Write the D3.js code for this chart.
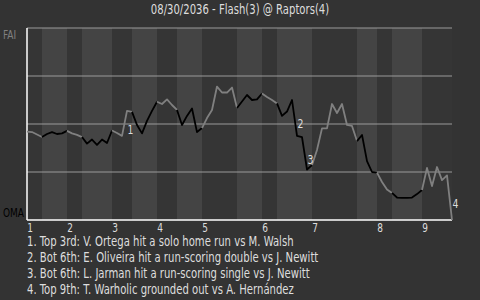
<!DOCTYPE html>
<html>
<head>
<meta charset="utf-8">
<script src="https://cdn.jsdelivr.net/npm/d3@7"></script>
<style>
  body { margin: 0; background: #333; }
  svg { display: block; }
  text { font-family: "DejaVu Sans Condensed", "DejaVu Sans", sans-serif; }
</style>
</head>
<body>
<div id="chart"></div>
<script>
const title = "08/30/2036 - Flash(3) @ Raptors(4)";
const awayTeam = "FAI";
const homeTeam = "OMA";
const innings = ["1", "2", "3", "4", "5", "6", "7", "8", "9"];

// away (FAI) win probability after each plate appearance, in percent
const winProb = [
    46.0, 45.8, 44.5, 43.2, 44.8, 45.8, 44.8, 45.1, 46.4, 45.1,
    44.3, 43.2, 39.8, 41.9, 39.1, 41.9, 40.1, 46.6, 45.3, 43.8,
    56.8, 56.3, 49.5, 45.1, 51.6, 56.8, 61.6, 60.4, 62.8, 59.9,
    57.3, 49.5, 54.2, 58.1, 45.8, 47.9, 53.1, 57.3, 69.5, 66.4,
    66.4, 69.0, 58.3, 61.7, 65.1, 62.5, 62.8, 65.9, 64.1, 62.5,
    60.7, 54.2, 56.5, 62.5, 43.8, 43.2, 26.3, 28.6, 36.5, 47.7,
    47.7, 60.4, 55.7, 60.4, 49.5, 49.0, 41.1, 44.3, 30.7, 25.0,
    24.7, 19.8, 15.9, 14.1, 11.7, 11.5, 11.5, 11.7, 13.5, 15.6,
    27.1, 17.7, 27.6, 20.8, 23.2, 0
];

// index where each half inning starts (top 1st, bot 1st, ...), last = end
const halfStarts = [0, 3, 8, 11, 17, 21, 26, 30, 35, 42, 47, 50, 57, 66, 70, 73, 79, 85];

// key plays: index of the plate appearance that ends the segment
const eventIdx = [20, 54, 56, 85];
const eventNotes = [
    "1. Top 3rd: V. Ortega hit a solo home run vs M. Walsh",
    "2. Bot 6th: E. Oliveira hit a run-scoring double vs J. Newitt",
    "3. Bot 6th: L. Jarman hit a run-scoring single vs J. Newitt",
    "4. Top 9th: T. Warholic grounded out vs A. Hernández"
];

const W = 480, H = 300;
const plotL = 27, plotR = 452, plotT = 28, plotB = 220;
const squeeze = 0.8; // reference font is narrower than DejaVu Condensed

const svg = d3.select("#chart").append("svg")
    .attr("width", W)
    .attr("height", H);

svg.append("rect").attr("width", W).attr("height", H).attr("fill", "#333");

const x = d3.scaleLinear().domain([0, winProb.length - 1]).range([plotL, plotR]);
const y = d3.scaleLinear().domain([0, 100]).range([plotB, plotT]);

function condense(sel) {
    sel.each(function () {
        const w = this.getComputedTextLength();
        d3.select(this)
            .attr("textLength", w * squeeze)
            .attr("lengthAdjust", "spacingAndGlyphs");
    });
}

// half inning bands
const halves = d3.range(halfStarts.length - 1).map(h => ({
    h, a: halfStarts[h], b: halfStarts[h + 1]
}));

svg.selectAll(".band")
    .data(halves)
    .join("rect")
    .attr("class", "band")
    .attr("x", d => x(d.a))
    .attr("y", plotT)
    .attr("width", d => x(d.b) - x(d.a))
    .attr("height", plotB - plotT)
    .attr("fill", d => d.h % 2 ? "#444" : "#353535");

// grid
svg.selectAll(".grid")
    .data([25, 50, 75, 100])
    .join("line")
    .attr("class", "grid")
    .attr("x1", plotL).attr("x2", plotR)
    .attr("y1", d => y(d)).attr("y2", d => y(d))
    .attr("stroke", "#9a9a9a")
    .attr("stroke-width", 1);

// axes
svg.append("line")
    .attr("x1", plotL).attr("x2", plotL)
    .attr("y1", plotT).attr("y2", plotB)
    .attr("stroke", "#fff").attr("stroke-width", 1.5);
svg.append("line")
    .attr("x1", plotL).attr("x2", plotR)
    .attr("y1", plotB).attr("y2", plotB)
    .attr("stroke", "#fff").attr("stroke-width", 1.5);

// win probability line, coloured by batting team
const line = d3.line().x(i => x(i)).y(i => y(winProb[i]));
svg.selectAll(".wp")
    .data(halves)
    .join("path")
    .attr("class", "wp")
    .attr("d", d => line(d3.range(d.a, d.b + 1)))
    .attr("fill", "none")
    .attr("stroke", d => d.h % 2 ? "#000" : "#808080")
    .attr("stroke-width", 1.8)
    .attr("stroke-linejoin", "round");

// event labels at segment midpoints
svg.selectAll(".evt")
    .data(eventIdx)
    .join("text")
    .attr("class", "evt")
    .attr("x", i => (x(i) + x(i - 1)) / 2 + 3)
    .attr("y", i => (y(winProb[i]) + y(winProb[i - 1])) / 2 + 10.5)
    .attr("fill", "#ddd")
    .attr("font-size", 13)
    .text((d, k) => k + 1)
    .call(condense);

// inning labels
svg.selectAll(".inn")
    .data(innings)
    .join("text")
    .attr("class", "inn")
    .attr("x", (d, k) => x(halfStarts[k * 2]) + 3)
    .attr("y", 231.5)
    .attr("text-anchor", "middle")
    .attr("fill", "#ddd")
    .attr("font-size", 12.5)
    .text(d => d)
    .call(condense);

// team labels
svg.append("text")
    .attr("x", 3).attr("y", 38.5)
    .attr("fill", "#808080")
    .attr("font-size", 12.5)
    .text(awayTeam)
    .call(condense);
svg.append("text")
    .attr("x", 3).attr("y", 217)
    .attr("fill", "#000")
    .attr("font-size", 12.5)
    .text(homeTeam)
    .call(condense);

// title
svg.append("text")
    .attr("x", 240).attr("y", 13.5)
    .attr("text-anchor", "middle")
    .attr("fill", "#ddd")
    .attr("font-size", 14)
    .text(title)
    .call(condense);

// notes
svg.selectAll(".note")
    .data(eventNotes)
    .join("text")
    .attr("class", "note")
    .attr("x", 27)
    .attr("y", (d, k) => 246 + k * 16)
    .attr("fill", "#ddd")
    .attr("font-size", 14)
    .text(d => d)
    .call(condense);
</script>
</body>
</html>
